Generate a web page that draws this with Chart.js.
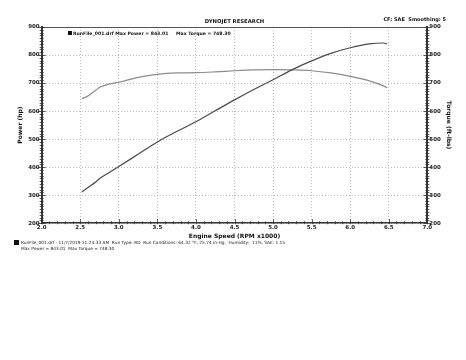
<!DOCTYPE html>
<html>
<head>
<meta charset="utf-8">
<script src="https://cdn.jsdelivr.net/npm/chart.js@4.4.1/dist/chart.umd.min.js"></script>
<style>
  html, body { margin: 0; padding: 0; background: #ffffff; }
  #wrap { width: 466px; height: 360px; position: relative; }
</style>
</head>
<body>
<div id="wrap"><canvas id="dynoChart"></canvas></div>
<script>
// engine speed in RPM x1000
const rpm = [2.52, 2.60, 2.70, 2.76, 2.90, 3.00, 3.25, 3.50, 3.75, 4.00, 4.25, 4.50, 4.75, 5.00, 5.25, 5.50, 5.75, 6.00, 6.25, 6.43, 6.48];
const powerHp = [311, 327, 347, 361, 385, 402, 446, 490, 527, 562, 601, 640, 677, 712, 748, 779, 806, 826, 840, 843, 840];
const torqueFtLbs = [644, 654, 674, 686, 698, 703, 720, 731, 736, 737, 740, 744, 747, 748, 747, 744, 736, 724, 708, 690, 683];

const xTicks = [2.0, 2.5, 3.0, 3.5, 4.0, 4.5, 5.0, 5.5, 6.0, 6.5, 7.0];
const yTicks = [200, 300, 400, 500, 600, 700, 800, 900];

const titleText = 'DYNOJET RESEARCH';
const cornerText = 'CF: SAE  Smoothing: 5';
const legendText1 = 'RunFile_001.drf Max Power = 843.01';
const legendText2 = 'Max Torque = 748.30';
const footLine1 = 'RunFile_001.drf - 11/7/2019 11:24:33 AM  Run Type: RD  Run Conditions: 64.32 \u00B0F, 25.74 in-Hg,  Humidity:  11%, SAE: 1.15';
const footLine2 = 'Max Power = 843.01  Max Torque = 748.30';

const FONT = 'DejaVu Sans';
const tickFont = { family: FONT, size: 5.5, weight: 'bold' };
const axisTitleFont = { family: FONT, size: 6, weight: 'bold' };

function toPoints(xs, ys) {
  return xs.map((x, i) => ({ x, y: ys[i] }));
}

const decorPlugin = {
  id: 'decor',
  afterDraw(chart) {
    const ctx = chart.ctx;
    const area = chart.chartArea;
    const x = chart.scales.x;
    const yl = chart.scales.yPower;
    ctx.save();

    // top border
    ctx.strokeStyle = '#555';
    ctx.lineWidth = 1;
    ctx.beginPath();
    ctx.moveTo(area.left, area.top + 0.5);
    ctx.lineTo(area.right, area.top + 0.5);
    ctx.stroke();

    // minor ticks
    ctx.strokeStyle = '#333';
    ctx.lineWidth = 0.8;
    ctx.beginPath();
    for (let v = 200; v <= 900; v += 10) {
      const py = Math.round(yl.getPixelForValue(v)) + 0.5;
      const len = v % 100 === 0 ? 4 : 2;
      ctx.moveTo(area.left - len, py);
      ctx.lineTo(area.left + len, py);
      ctx.moveTo(area.right - len, py);
      ctx.lineTo(area.right + len, py);
    }
    for (let i = 20; i <= 70; i++) {
      const px = Math.round(x.getPixelForValue(i / 10)) + 0.5;
      const len = i % 5 === 0 ? 4 : 2;
      ctx.moveTo(px, area.bottom - len);
      ctx.lineTo(px, area.bottom + 1);
    }
    ctx.stroke();

    // header texts
    ctx.fillStyle = '#111';
    ctx.font = 'bold 5.3px "' + FONT + '"';
    ctx.textBaseline = 'bottom';
    ctx.textAlign = 'center';
    ctx.fillText(titleText, (area.left + area.right) / 2, area.top - 3);
    ctx.font = 'bold 5px "' + FONT + '"';
    ctx.textAlign = 'right';
    ctx.fillText(cornerText, 446, area.top - 5);

    // legend inside plot
    ctx.fillStyle = '#111';
    ctx.fillRect(68, 31, 4, 4);
    ctx.font = 'bold 4.6px "' + FONT + '"';
    ctx.textAlign = 'left';
    ctx.textBaseline = 'middle';
    ctx.fillText(legendText1, 73, 33.5);
    ctx.fillText(legendText2, 176, 33.5);

    // footer
    ctx.fillRect(14, 240, 5, 5);
    ctx.fillStyle = '#222';
    ctx.font = '4.3px "' + FONT + '"';
    ctx.fillText(footLine1, 21, 242.5);
    ctx.fillText(footLine2, 21, 249);
    ctx.restore();
  }
};

new Chart(document.getElementById('dynoChart').getContext('2d'), {
  type: 'line',
  data: {
    datasets: [
      {
        label: 'Power',
        data: toPoints(rpm, powerHp),
        yAxisID: 'yPower',
        borderColor: '#4a4a4a',
        borderWidth: 1.2,
        pointRadius: 0,
        cubicInterpolationMode: 'monotone',
        fill: false
      },
      {
        label: 'Torque',
        data: toPoints(rpm, torqueFtLbs),
        yAxisID: 'yTorque',
        borderColor: '#8c8c8c',
        borderWidth: 1.2,
        pointRadius: 0,
        cubicInterpolationMode: 'monotone',
        fill: false
      }
    ]
  },
  options: {
    responsive: true,
    maintainAspectRatio: false,
    animation: false,
    layout: { padding: { top: 27, left: 15, right: 12, bottom: 120 } },
    plugins: {
      legend: { display: false },
      tooltip: { enabled: false }
    },
    scales: {
      x: {
        type: 'linear',
        min: 2,
        max: 7,
        afterBuildTicks: (s) => { s.ticks = xTicks.map(v => ({ value: v })); },
        ticks: { color: '#222', font: tickFont, padding: 1, maxRotation: 0, callback: v => v.toFixed(1) },
        grid: { color: '#a8a8a8', lineWidth: 0.8, drawTicks: false },
        border: { display: true, color: '#333', width: 1.5, dash: [1, 2] },
        title: { display: true, text: 'Engine Speed (RPM x1000)', color: '#111', font: axisTitleFont, padding: { top: 1, bottom: 0 } }
      },
      yPower: {
        type: 'linear',
        position: 'left',
        min: 200,
        max: 900,
        afterBuildTicks: (s) => { s.ticks = yTicks.map(v => ({ value: v })); },
        ticks: { color: '#222', font: tickFont, padding: 2 },
        grid: { color: '#a8a8a8', lineWidth: 0.8, drawTicks: false },
        border: { display: true, color: '#333', width: 2, dash: [1, 2] },
        title: { display: true, text: 'Power (hp)', color: '#111', font: axisTitleFont, padding: 2 }
      },
      yTorque: {
        type: 'linear',
        position: 'right',
        min: 200,
        max: 900,
        afterBuildTicks: (s) => { s.ticks = yTicks.map(v => ({ value: v })); },
        ticks: { color: '#222', font: tickFont, padding: 2 },
        grid: { display: false, drawTicks: false },
        border: { display: true, color: '#333', width: 2 },
        title: { display: true, text: 'Torque (ft-lbs)', color: '#111', font: axisTitleFont, padding: 2 }
      }
    }
  },
  plugins: [decorPlugin]
});
</script>
</body>
</html>
